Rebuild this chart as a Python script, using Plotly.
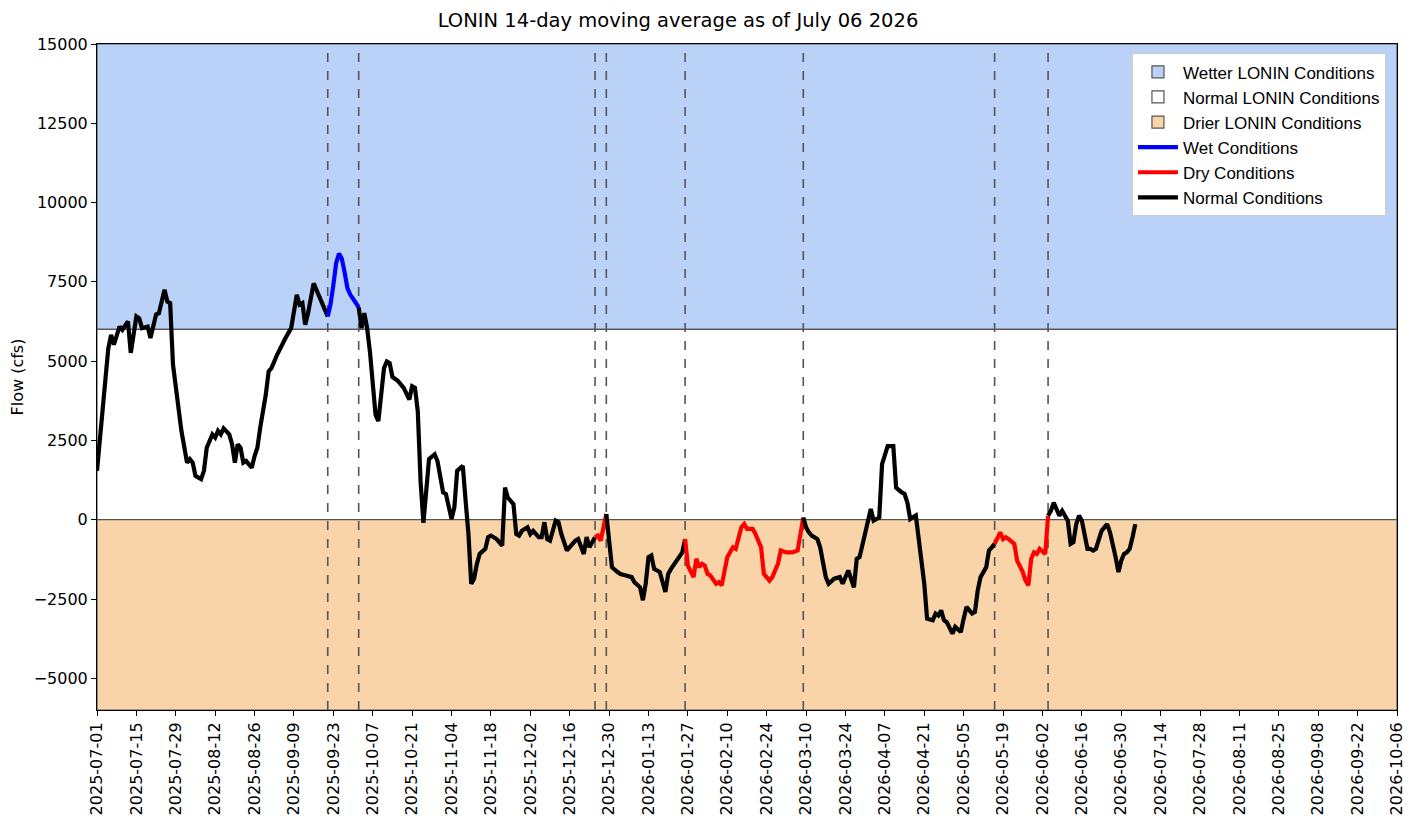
import pandas as pd
import plotly.graph_objects as go

# ---------------- data ----------------
start_date = "2025-07-01"
# days since 2025-07-01
day_offset = [
    0, 2, 4, 5, 6, 8, 9, 11, 12, 14, 15, 16, 18, 19, 21, 22, 23, 24, 25, 26,
    27, 29, 30, 32, 33, 34, 35, 37, 38, 39, 41, 42, 43, 44, 45, 47, 48, 49, 50, 51,
    52, 53, 55, 56, 57, 58, 60, 61, 62, 64, 66, 67, 69, 70, 71, 72, 73, 74, 75, 77,
    78, 79, 80, 82, 83, 84, 85, 86, 87, 88, 89, 90, 91, 93, 94, 95, 96, 97, 98, 99,
    100, 101, 102, 103, 104, 105, 107, 109, 111, 112, 113, 114, 115, 116, 117, 118, 120, 121, 123, 124,
    126, 127, 128, 130, 131, 132, 133, 134, 135, 136, 138, 139, 140, 142, 144, 145, 146, 148, 149, 150,
    151, 153, 154, 155, 157, 158, 159, 160, 161, 163, 164, 165, 167, 169, 170, 171, 173, 174, 175, 177,
    178, 179, 181, 182, 183, 185, 186, 188, 190, 191, 193, 194, 195, 196, 197, 198, 200, 202, 203, 204,
    206, 208, 209, 210, 212, 213, 214, 215, 216, 217, 218, 220, 221, 222, 224, 226, 227, 228, 229, 230,
    231, 233, 234, 236, 237, 239, 240, 242, 243, 245, 247, 249, 251, 252, 253, 254, 256, 257, 259, 260,
    262, 264, 265, 267, 269, 270, 271, 273, 275, 276, 278, 279, 280, 281, 283, 284, 286, 287, 288, 289,
    291, 292, 294, 295, 297, 298, 299, 300, 301, 302, 304, 305, 307, 308, 309, 311, 312, 313, 314, 316,
    317, 318, 319, 321, 322, 323, 324, 326, 327, 329, 330, 331, 332, 333, 334, 335, 337, 338, 339, 340,
    341, 342, 343, 345, 346, 347, 348, 349, 350, 352, 353, 354, 355, 356, 357, 359, 360, 362, 363, 364,
    365, 366, 367, 368, 369,
]
flow_cfs = [
    1540, 3600, 5400, 5830, 5520, 6090, 5990, 6250, 5260, 6410, 6350, 6040, 6090, 5730, 6470, 6510, 6830, 7250, 6880, 6830,
    4890, 3320, 2800, 1800, 1910, 1800, 1380, 1280, 1540, 2270, 2690, 2590, 2800, 2690, 2880, 2690, 2380, 1800, 2380, 2270,
    1800, 1850, 1640, 2010, 2270, 2900, 3950, 4680, 4780, 5200, 5570, 5730, 6040, 6670, 7090, 6780, 6830, 6150, 6510, 7450,
    7250, 7040, 6880, 6410, 6800, 7400, 8100, 8390, 8230, 7800, 7300, 7100, 6950, 6700, 6040, 6510, 6040, 5300, 4400, 3300,
    3110, 4000, 4780, 4990, 4940, 4500, 4370, 4160, 3790, 4210, 4160, 3420, 1200, -100, 810, 1910, 2060, 1850, 860, 810,
    20, 390, 1540, 1700, 600, -450, -2020, -1860, -1390, -1080, -920, -550, -500, -610, -820, 1010, 700, 490, -450, -500,
    -350, -240, -450, -350, -550, -550, -80, -610, -660, -30, -80, -450, -970, -760, -660, -610, -1080, -550, -870, -550,
    -500, -660, 180, -550, -1500, -1650, -1710, -1760, -1810, -1970, -2130, -2540, -2020, -1180, -1130, -1550, -1650, -2280, -1710, -1550,
    -1290, -1030, -610, -1450, -1810, -1230, -1500, -1390, -1450, -1710, -1760, -2020, -1970, -2070, -1180, -870, -920, -550, -240, -140,
    -290, -290, -450, -870, -1710, -1920, -1810, -1390, -970, -1030, -1030, -970, 70, -240, -400, -500, -610, -870, -1810, -2020,
    -1860, -1810, -2020, -1600, -2130, -1230, -1180, -350, 340, -30, 70, 1750, 2060, 2320, 2320, 1010, 860, 810, 540, 20,
    130, -550, -2020, -3120, -3170, -2960, -3020, -2860, -3170, -3230, -3590, -3380, -3540, -3120, -2750, -2960, -2910, -2230, -1810, -1500,
    -970, -870, -760, -400, -610, -550, -610, -760, -1290, -1650, -1920, -2070, -1230, -1030, -1080, -920, -1080, 130, 280, 540,
    340, 130, 280, -30, -760, -710, -140, 130, -30, -920, -920, -970, -920, -660, -350, -140, -400, -1180, -1650, -1290,
    -1080, -1030, -920, -550, -140,
]
# days (since start) where the condition changes (dashed lines)
change_days = [82, 93, 177, 181, 209, 251, 319, 338]
segment_conditions = ["Normal", "Wet", "Normal", "Dry", "Normal", "Dry", "Normal", "Dry", "Normal"]

wet_threshold = 6000
dry_threshold = 0
y_min, y_max = -6000, 15000
axis_end = "2026-10-06"
tick_step_days = 14

# ---------------- styling ----------------
condition_color = {"Wet": "#0000ff", "Dry": "#ff0000", "Normal": "#000000"}
condition_label = {"Wet": "Wet Conditions", "Dry": "Dry Conditions", "Normal": "Normal Conditions"}
condition_rank = {"Wet": 4, "Dry": 5, "Normal": 6}
wet_fill = "#bad1f8"
normal_fill = "#ffffff"
dry_fill = "#f8d4a8"
tick_font = dict(family="DejaVu Sans", size=16, color="black")

t0 = pd.Timestamp(start_date)
dates = [t0 + pd.Timedelta(days=d) for d in day_offset]
df = pd.DataFrame({"day": day_offset, "date": dates, "flow": flow_cfs})

fig = go.Figure()

# background bands (also legend entries)
bands = [
    ("Wetter LONIN Conditions", wet_threshold, y_max, wet_fill, 1),
    ("Normal LONIN Conditions", dry_threshold, wet_threshold, normal_fill, 2),
    ("Drier LONIN Conditions", y_min, dry_threshold, dry_fill, 3),
]
for name, y0, y1, color, rank in bands:
    fig.add_shape(
        type="rect", xref="paper", yref="y", x0=0, x1=1, y0=y0, y1=y1,
        fillcolor=color, line=dict(color="#555555", width=1.2), layer="below",
        showlegend=True, name=name, legendrank=rank, legendgroup=name,
    )

# dashed condition change lines
for d in change_days:
    fig.add_shape(
        type="line", xref="x", yref="paper",
        x0=t0 + pd.Timedelta(days=d), x1=t0 + pd.Timedelta(days=d), y0=0, y1=1,
        line=dict(color="#555555", width=1.6, dash="dash"), layer="below",
    )

# coloured line segments
edges = [day_offset[0]] + change_days + [day_offset[-1]]
shown = set()
for i, cond in enumerate(segment_conditions):
    seg = df[(df["day"] >= edges[i]) & (df["day"] <= edges[i + 1])]
    fig.add_trace(go.Scatter(
        x=seg["date"], y=seg["flow"], mode="lines",
        line=dict(color=condition_color[cond], width=4.2),
        name=condition_label[cond], legendgroup=cond,
        showlegend=cond not in shown, legendrank=condition_rank[cond],
        hoverinfo="skip",
    ))
    shown.add(cond)

tick_dates = pd.date_range(t0, pd.Timestamp(axis_end), freq=f"{tick_step_days}D")
y_ticks = list(range(-5000, 15001, 2500))

fig.update_layout(
    width=1413, height=821,
    margin=dict(l=97, r=16, t=44, b=111, autoexpand=False),
    paper_bgcolor="white", plot_bgcolor="white",
    title=dict(text="LONIN 14-day moving average as of July 06 2026",
               x=678 / 1413, xref="container", xanchor="center", y=1 - 20 / 821, yanchor="middle",
               font=dict(family="DejaVu Sans", size=19.5, color="black"), automargin=False),
    legend=dict(x=0.9915, xanchor="right", y=0.986, yanchor="top",
                bgcolor="white", bordercolor="#cccccc", borderwidth=1,
                font=dict(family="Liberation Sans", size=17, color="black"),
                traceorder="grouped", tracegroupgap=0, itemwidth=40),
    showlegend=True,
)
fig.update_xaxes(
    range=[t0, pd.Timestamp(axis_end)], tickvals=list(tick_dates),
    ticktext=[d.strftime("%Y-%m-%d") for d in tick_dates], tickangle=-90,
    tickfont=tick_font, ticks="outside", ticklen=5, tickcolor="black", automargin=False,
    showgrid=False, zeroline=False, showline=True, linecolor="black", linewidth=1, mirror=True,
)
fig.update_yaxes(
    range=[y_min, y_max], tickvals=y_ticks,
    ticktext=[str(v).replace("-", "\u2212") for v in y_ticks],
    tickfont=tick_font, ticks="outside", ticklen=5, tickcolor="black", automargin=False,
    showgrid=False, zeroline=False, showline=True, linecolor="black", linewidth=1, mirror=True,
    title=dict(text="Flow (cfs)", font=dict(family="DejaVu Sans", size=16, color="black"), standoff=6),
)

fig.write_html(
    "out.html",
    config={"displayModeBar": False},
    post_script="document.body.style.margin='0px';document.body.style.overflow='hidden';",
)
